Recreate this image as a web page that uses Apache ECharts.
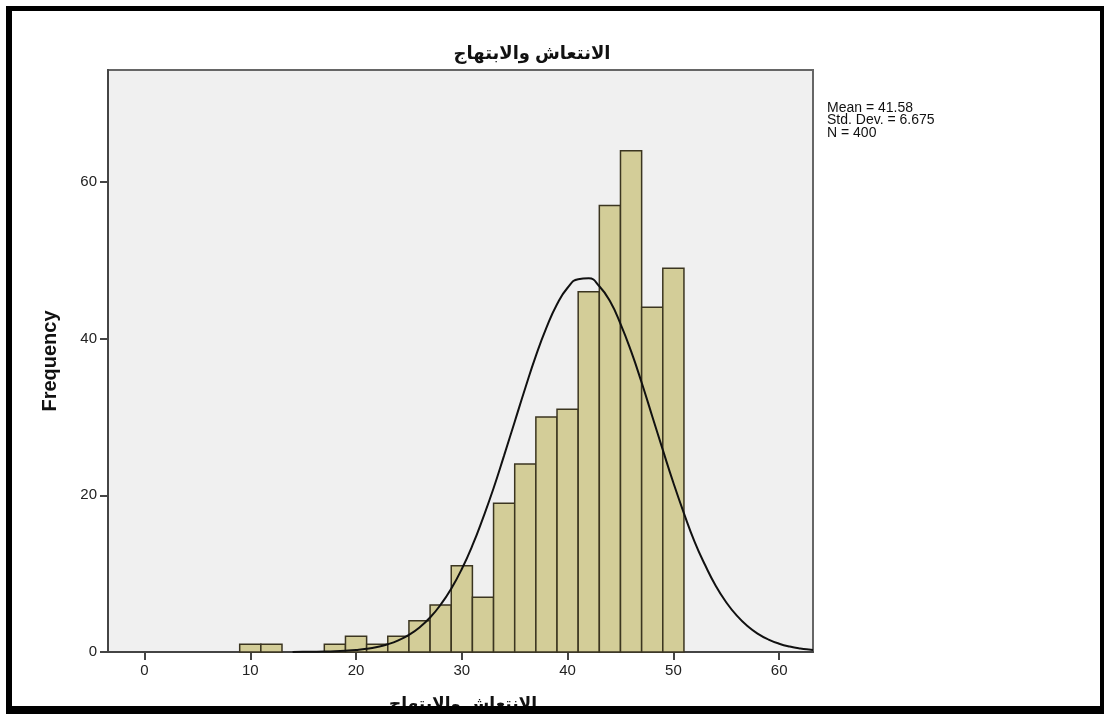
<!DOCTYPE html>
<html>
<head>
<meta charset="utf-8">
<script src="https://cdn.jsdelivr.net/npm/echarts@6/dist/echarts.min.js"></script>
<style>
html,body{margin:0;padding:0;background:#fff;}
#chart{width:1104px;height:714px;}
</style>
</head>
<body>
<div id="chart"></div>
<script>
// ---- data ----
var titleText = 'الانتعاش والابتهاج';
var xAxisTitle = 'الانتعاش والابتهاج';
var yAxisTitle = 'Frequency';
var statsLines = ['Mean = 41.58', 'Std. Dev. = 6.675', 'N = 400'];
var binWidth = 2;
var binStarts = [9, 11, 17, 19, 21, 23, 25, 27, 29, 31, 33, 35, 37, 39, 41, 43, 45, 47, 49];
var counts    = [1, 1, 1, 2, 1, 2, 4, 6, 11, 7, 19, 24, 30, 31, 46, 57, 64, 44, 49];
var xTicks = [0, 10, 20, 30, 40, 50, 60];
var yTicks = [0, 20, 40, 60];
// normal curve points
var curveX = [14, 15, 16, 17, 18, 19, 20, 21, 22, 23, 24, 25, 26, 27, 28, 29, 30, 31, 32, 33, 34, 35, 36, 37, 38, 39, 40, 41, 42, 43, 44, 45, 46, 47, 48, 49, 50, 51, 52, 53, 54, 55, 56, 57, 58, 59, 60, 61, 62, 63, 63.2];
var curveY = [0.01, 0.02, 0.03, 0.05, 0.09, 0.16, 0.26, 0.41, 0.65, 0.99, 1.49, 2.19, 3.14, 4.40, 6.04, 8.09, 10.6, 13.6, 17.1, 20.9, 25.1, 29.4, 33.7, 37.8, 41.4, 44.4, 46.5, 47.6, 47.7, 46.7, 44.8, 41.9, 38.4, 34.4, 30.1, 25.8, 21.6, 17.7, 14.1, 11.1, 8.46, 6.34, 4.64, 3.32, 2.32, 1.59, 1.06, 0.69, 0.44, 0.28, 0.25];

var barData = binStarts.map(function (s, i) { return [s, s + binWidth, counts[i]]; });
var curveData = curveX.map(function (x, i) { return [x, curveY[i]]; });

var chart = echarts.init(document.getElementById('chart'), null, {renderer: 'canvas'});
var font = 'Arial, "Liberation Sans", "DejaVu Sans", sans-serif';
var option = {
  backgroundColor: '#ffffff',
  animation: false,
  grid: {
    left: 108, top: 70, width: 705, height: 582,
    show: true, backgroundColor: '#f0f0f0', borderColor: '#666', borderWidth: 2
  },
  xAxis: {
    type: 'value', min: -3.45, max: 63.2,
    axisLine: {show: true, onZero: false, lineStyle: {color: '#444', width: 2}},
    axisTick: {show: true, length: 8, inside: false, customValues: xTicks, lineStyle: {color: '#444', width: 2}},
    axisLabel: {customValues: xTicks, margin: 11, fontFamily: font, fontSize: 15, color: '#222'},
    splitLine: {show: false}
  },
  yAxis: {
    type: 'value', min: 0, max: 74.3, interval: 20,
    axisLine: {show: true, onZero: false, lineStyle: {color: '#444', width: 2}},
    axisTick: {show: true, length: 8, customValues: yTicks, lineStyle: {color: '#444', width: 2}},
    axisLabel: {customValues: yTicks, margin: 11, fontFamily: font, fontSize: 15, color: '#222'},
    splitLine: {show: false}
  },
  series: [
    {
      type: 'custom',
      data: barData,
      encode: {x: [0, 1], y: 2},
      renderItem: function (params, api) {
        var p0 = api.coord([api.value(0), api.value(2)]);
        var p1 = api.coord([api.value(1), 0]);
        return {
          type: 'rect',
          shape: {x: p0[0], y: p0[1], width: p1[0] - p0[0], height: p1[1] - p0[1]},
          style: {fill: '#d3cd98', stroke: '#3b3520', lineWidth: 1.5}
        };
      },
      z: 2
    },
    {
      type: 'line',
      data: curveData,
      smooth: true,
      showSymbol: false,
      symbol: 'none',
      lineStyle: {color: '#111', width: 2},
      z: 3
    }
  ],
  graphic: [
    {
      type: 'text', x: 532, y: 54, z: 50,
      style: {text: titleText, fontFamily: font, fontSize: 18, fontWeight: 'bold', fill: '#111', textAlign: 'center', textVerticalAlign: 'middle'}
    },
    {
      type: 'text', x: 50, y: 361, rotation: Math.PI / 2, z: 50,
      style: {text: yAxisTitle, fontFamily: font, fontSize: 20, fontWeight: 'bold', fill: '#111', textAlign: 'center', textVerticalAlign: 'middle'}
    },
    {
      type: 'text', x: 827, y: 108, z: 50,
      style: {text: statsLines[0], fontFamily: font, fontSize: 14, fill: '#111', textAlign: 'left', textVerticalAlign: 'middle'}
    },
    {
      type: 'text', x: 827, y: 120.5, z: 50,
      style: {text: statsLines[1], fontFamily: font, fontSize: 14, fill: '#111', textAlign: 'left', textVerticalAlign: 'middle'}
    },
    {
      type: 'text', x: 827, y: 133, z: 50,
      style: {text: statsLines[2], fontFamily: font, fontSize: 14, fill: '#111', textAlign: 'left', textVerticalAlign: 'middle'}
    },
    {
      type: 'text', x: 463, y: 696, z: 50,
      style: {text: xAxisTitle, fontFamily: font, fontSize: 17, fontWeight: 'bold', fill: '#111', textAlign: 'center', textVerticalAlign: 'top'}
    },
    // outer black frame (bottom edge covers part of the axis title)
    {type: 'rect', z: 100, shape: {x: 6, y: 6, width: 1098, height: 5}, style: {fill: '#000'}},
    {type: 'rect', z: 100, shape: {x: 6, y: 6, width: 6, height: 708}, style: {fill: '#000'}},
    {type: 'rect', z: 100, shape: {x: 1100, y: 6, width: 4, height: 708}, style: {fill: '#000'}},
    {type: 'rect', z: 100, shape: {x: 6, y: 706, width: 1098, height: 8}, style: {fill: '#000'}}
  ]
};
chart.setOption(option);
</script>
</body>
</html>
